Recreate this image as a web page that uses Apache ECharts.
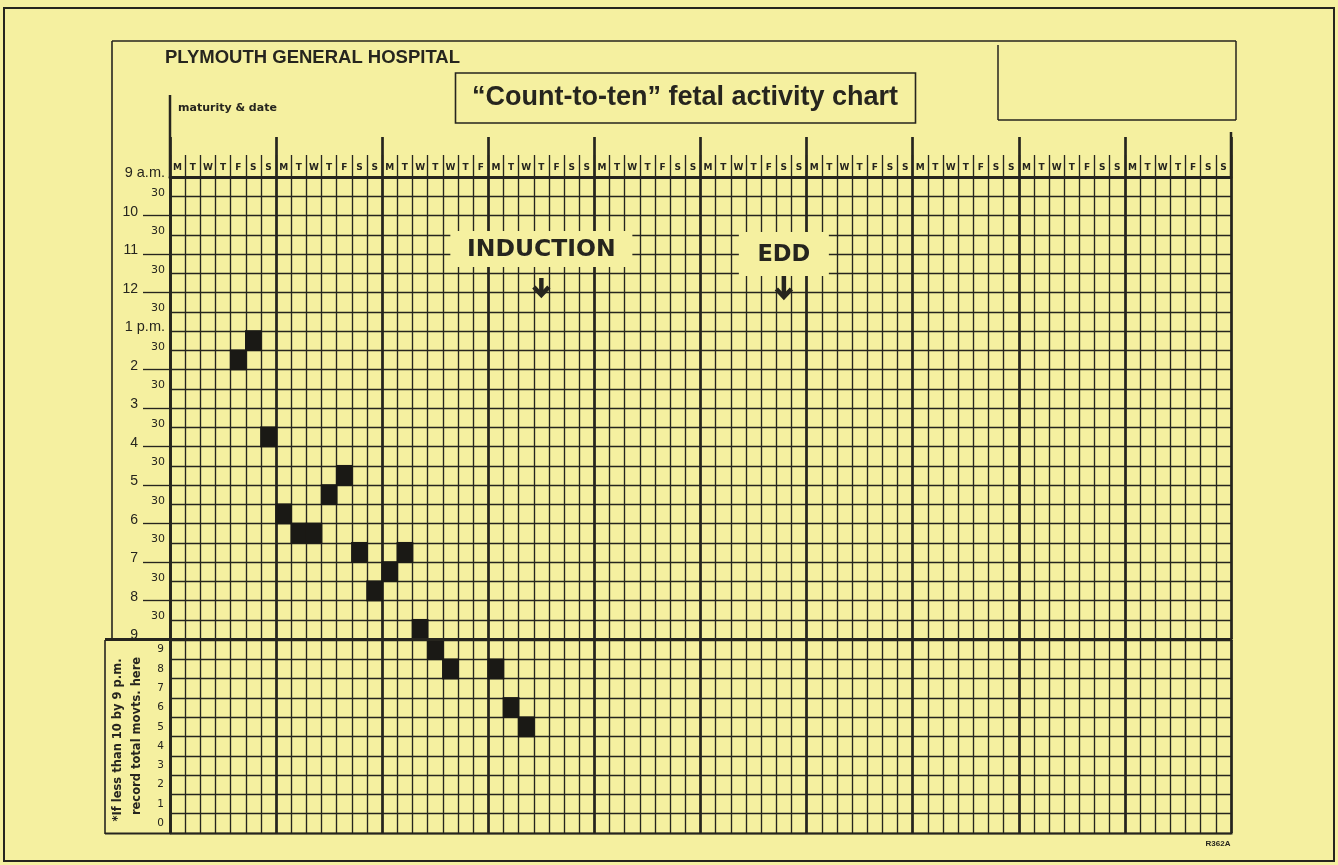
<!DOCTYPE html>
<html>
<head>
<meta charset="utf-8">
<script src="https://cdn.jsdelivr.net/npm/echarts@6/dist/echarts.min.js"></script>
<style>
html,body{margin:0;padding:0;background:#f5f0a0;}
#c{width:1338px;height:865px;}
</style>
</head>
<body>
<div id="c"></div>
<script>
// ---------- DATA ----------
// day letters printed over the 70 day columns (10 weeks)
const dayLetters = [
  'M','T','W','T','F','S','S',
  'M','T','W','T','F','S','S',
  'M','T','W','T','W','T','F',
  'M','T','W','T','F','S','S',
  'M','T','W','T','F','S','S',
  'M','T','W','T','F','S','S',
  'M','T','W','T','F','S','S',
  'M','T','W','T','F','S','S',
  'M','T','W','T','F','S','S',
  'M','T','W','T','F','S','S'
];
// half-hour time lines, 9 a.m. to 9 p.m.
const timeLabels = ['9 a.m.','30','10','30','11','30','12','30','1 p.m.','30','2','30','3','30',
  '4','30','5','30','6','30','7','30','8','30','9'];
// total movements scale (bottom panel)
const countLabels = ['0','1','2','3','4','5','6','7','8','9'];

// days on which 10 movements were reached: day column and half-hour slot (0 = 9:00-9:30 a.m.)
const tenDay  = [4, 5, 6, 7, 8, 9, 10, 11, 12, 13, 14, 15, 16];
const tenSlot = [9, 8, 13, 17, 18, 18, 16, 15, 19, 21, 20, 19, 23];

// days with fewer than 10 by 9 p.m.: day column and total movements
const lowDay   = [17, 18, 21, 22, 23];
const lowCount = [9, 8, 8, 6, 5];

// annotations (day column)
const annotDays  = [24, 40];
const annotNames = ['INDUCTION', 'EDD'];

// ---------- STYLE / LAYOUT ----------
const BG = '#f5f0a0', INK = '#26251e', MARK = '#1a1915';
const L = { x: 170, w: 1061, top: 177, topH: 462, botTop: 640, botH: 193 };
const CW = L.w / dayLetters.length;
const colCenter = d => L.x + (d + 0.5) * CW;

const chart = echarts.init(document.getElementById('c'));

function line(x1, y1, x2, y2, w) {
  return { type: 'line', z: 50, silent: true, shape: { x1, y1, x2, y2 },
    style: { stroke: INK, lineWidth: w } };
}
function txt(text, x, y, font, align, extra) {
  return Object.assign({ type: 'text', z: 60, silent: true, x: x, y: y,
    style: { text: text, x: 0, y: 0, font: font, fill: INK,
      align: align, textAlign: align, verticalAlign: 'middle', textVerticalAlign: 'middle' } }, extra || {});
}

const boxSpecs = [
  { w: 182, h: 36, dy: 250, font: 'bold 23.5px "DejaVu Sans", sans-serif', arrowTop: 278, arrowLen: 19 },
  { w: 90, h: 44, dy: 255, font: 'bold 22.5px "DejaVu Sans", sans-serif', arrowTop: 276, arrowLen: 23 }
];

const graphic = [
  { type: 'rect', z: 50, silent: true, shape: { x: 4, y: 8, width: 1330, height: 853 },
    style: { fill: null, stroke: INK, lineWidth: 2 } },
  line(112, 41, 1236, 41, 1.6),
  line(112, 41, 112, 640, 1.6),
  line(105, 640, 105, 834, 1.6),
  line(105, 833.5, 1232.5, 833.5, 2),
  line(105, 639.5, 1232.5, 639.5, 3),
  line(998, 45, 998, 120, 1.5),
  line(998, 120, 1236, 120, 1.5),
  line(1236, 41, 1236, 120, 1.5),
  line(L.x, 95, L.x, L.top, 2.5),
  line(L.x + L.w, 132, L.x + L.w, L.top, 2.5),
  { type: 'rect', z: 50, silent: true, shape: { x: 455.5, y: 73, width: 460, height: 50 },
    style: { fill: null, stroke: INK, lineWidth: 1.6 } },
  txt('PLYMOUTH GENERAL HOSPITAL', 165, 58, 'bold 18.5px "Liberation Sans", Arial, sans-serif', 'left'),
  txt('\u201CCount-to-ten\u201D fetal activity chart', 685, 98, 'bold 27px "Liberation Sans", Arial, sans-serif', 'center'),
  txt('maturity & date', 178, 108, 'bold 11px "DejaVu Sans", sans-serif', 'left'),
  txt('*If less than 10 by 9 p.m.', 118, 740, 'bold 11.5px "DejaVu Sans", sans-serif', 'center', { rotation: Math.PI / 2 }),
  txt('record total movts. here', 137, 736, 'bold 11.5px "DejaVu Sans", sans-serif', 'center', { rotation: Math.PI / 2 }),
  txt('R362A', 1218, 844, 'bold 8px "Liberation Sans", Arial, sans-serif', 'center')
];

annotNames.forEach((name, i) => {
  const s = boxSpecs[i];
  const cx = colCenter(annotDays[i]);
  graphic.push({ type: 'rect', z: 55, silent: true,
    shape: { x: cx - s.w / 2, y: s.dy - s.h / 2 - 1, width: s.w, height: s.h },
    style: { fill: BG } });
  graphic.push(txt(name, cx, s.dy, s.font, 'center'));
  graphic.push({ type: 'line', z: 60, silent: true,
    shape: { x1: cx, y1: s.arrowTop, x2: cx, y2: s.arrowTop + s.arrowLen - 2 },
    style: { stroke: INK, lineWidth: 4.5 } });
  graphic.push({ type: 'polyline', z: 60, silent: true,
    shape: { points: [[cx - 7.5, s.arrowTop + s.arrowLen - 10], [cx, s.arrowTop + s.arrowLen - 2], [cx + 7.5, s.arrowTop + s.arrowLen - 10]] },
    style: { stroke: INK, lineWidth: 4.5, fill: null, lineJoin: 'miter' } });
});

const thin = { color: INK, width: 1.35 };
const thick = { color: INK, width: 2.7 };
const catX = dayLetters.map((d, i) => 'd' + i);

function cellRenderer(isTop) {
  return function (params, api) {
    const d = api.value(0), r = api.value(1);
    const bw = api.size([1, 0])[0];
    const c = api.coord([d, r]);
    let y0, y1;
    if (isTop) {
      y0 = c[1];
      y1 = api.coord([d, r + 1])[1];
    } else {
      const bh = api.size([0, 1])[1];
      y0 = c[1] - bh / 2;
      y1 = c[1] + bh / 2;
    }
    const pad = 0.8;
    return {
      type: 'rect',
      shape: { x: c[0] - bw / 2 - pad, y: Math.min(y0, y1) - pad, width: bw + 2 * pad, height: Math.abs(y1 - y0) + 2 * pad },
      style: { fill: MARK }
    };
  };
}

const option = {
  backgroundColor: BG,
  animation: false,
  graphic: graphic,
  grid: [
    { left: L.x, top: L.top, width: L.w, height: L.topH, outerBoundsMode: 'none' },
    { left: L.x, top: L.botTop, width: L.w, height: L.botH, outerBoundsMode: 'none' }
  ],
  xAxis: [
    { type: 'category', gridIndex: 0, position: 'top', data: catX, boundaryGap: true,
      axisLine: { show: true, onZero: false, lineStyle: { color: INK, width: 3 } },
      axisTick: { show: true, interval: 0, length: 22, lineStyle: thin },
      axisLabel: { show: true, interval: 0, margin: 5, color: INK, fontSize: 9, fontWeight: 'bold',
        fontFamily: '"DejaVu Sans", sans-serif', formatter: (v, i) => dayLetters[i] },
      splitLine: { show: true, interval: 0, lineStyle: thin } },
    { type: 'value', gridIndex: 0, position: 'top', min: 0, max: dayLetters.length, interval: 7,
      axisLine: { show: false, onZero: false },
      axisTick: { show: true, length: 40, lineStyle: thick },
      axisLabel: { show: false },
      splitLine: { show: true, lineStyle: thick } },
    { type: 'category', gridIndex: 1, position: 'bottom', data: catX, boundaryGap: true,
      axisLine: { show: false, onZero: false }, axisTick: { show: false }, axisLabel: { show: false },
      splitLine: { show: true, interval: 0, lineStyle: thin } },
    { type: 'value', gridIndex: 1, position: 'bottom', min: 0, max: dayLetters.length, interval: 7,
      axisLine: { show: false, onZero: false }, axisTick: { show: false }, axisLabel: { show: false },
      splitLine: { show: true, lineStyle: thick } }
  ],
  yAxis: [
    { type: 'category', gridIndex: 0, inverse: true, boundaryGap: false,
      data: timeLabels.map((t, i) => 't' + i),
      axisLine: { show: true, onZero: false, lineStyle: thick },
      axisTick: { show: true, length: 27, lineStyle: thin,
        interval: (i) => { const t = timeLabels[i]; return t !== '30' && t.indexOf('.') < 0 && i < timeLabels.length - 1; } },
      axisLabel: { show: true, interval: 0, margin: 5, color: INK, verticalAlign: 'bottom',
        formatter: (v, i) => {
          const t = timeLabels[i];
          if (t === '30') return '{m|30}';
          if (t.indexOf('.') >= 0) return '{a|' + t + '}';
          return '{h|' + t + '}';
        },
        rich: {
          m: { fontSize: 11, lineHeight: 7, fontFamily: '"DejaVu Sans", sans-serif', color: INK },
          a: { fontSize: 14.5, lineHeight: 8, fontFamily: '"Liberation Sans", Arial, sans-serif', color: INK },
          h: { fontSize: 14, lineHeight: 7, fontFamily: '"Liberation Sans", Arial, sans-serif', color: INK, padding: [0, 27, 0, 0] }
        } },
      splitLine: { show: true, interval: 0, lineStyle: thin } },
    { type: 'category', gridIndex: 1, boundaryGap: true, data: countLabels,
      axisLine: { show: true, onZero: false, lineStyle: thick },
      axisTick: { show: false },
      axisLabel: { show: true, interval: 0, margin: 6, color: INK, fontSize: 10.5, fontFamily: '"DejaVu Sans", sans-serif',
        padding: [4, 0, 0, 0] },
      splitLine: { show: true, interval: 0, lineStyle: thin } }
  ],
  series: [
    { type: 'custom', name: '10 movements reached', xAxisIndex: 0, yAxisIndex: 0, clip: false,
      renderItem: cellRenderer(true),
      data: tenDay.map((d, i) => [d, tenSlot[i]]) },
    { type: 'custom', name: 'total movements', xAxisIndex: 2, yAxisIndex: 1, clip: false,
      renderItem: cellRenderer(false),
      data: lowDay.map((d, i) => [d, lowCount[i]]) }
  ]
};
chart.setOption(option);
</script>
</body>
</html>
